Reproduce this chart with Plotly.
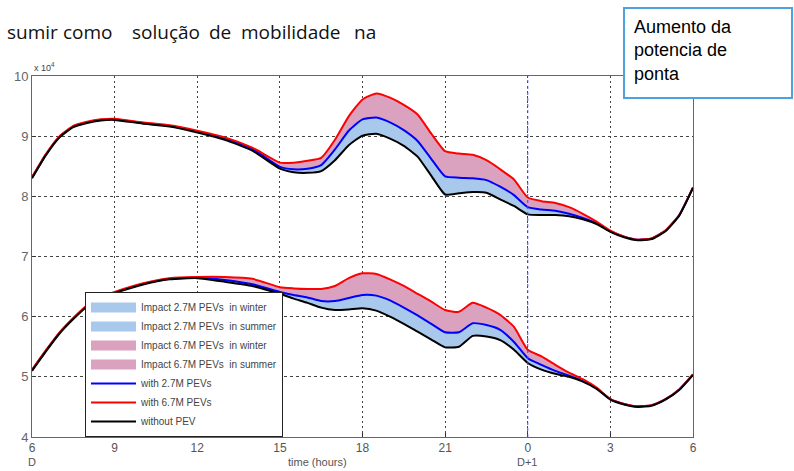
import plotly.graph_objects as go

hours = [6, 6.5, 7, 7.5, 8, 8.5, 9, 10, 11, 12, 13, 14, 15, 15.5, 16, 16.5, 17, 17.5, 18, 18.5,
         19, 19.5, 20, 20.5, 21, 21.5, 22, 22.5, 23, 23.5, 24, 24.5, 25, 25.5, 26, 26.5, 27, 27.5,
         28, 28.5, 29, 29.5, 30]

winter_without = [8.30, 8.68, 8.98, 9.15, 9.22, 9.26, 9.27, 9.21, 9.16, 9.06, 8.94, 8.76, 8.46, 8.40,
                  8.39, 8.42, 8.60, 8.85, 9.01, 9.04, 8.96, 8.84, 8.66, 8.34, 8.03, 8.05, 8.07, 8.06,
                  7.95, 7.84, 7.70, 7.69, 7.69, 7.67, 7.62, 7.54, 7.41, 7.32, 7.27, 7.29, 7.42, 7.68, 8.14]
winter_27 = [8.31, 8.69, 8.99, 9.16, 9.23, 9.27, 9.28, 9.22, 9.17, 9.08, 8.96, 8.79, 8.49, 8.45, 8.46,
             8.52, 8.78, 9.09, 9.28, 9.31, 9.23, 9.10, 8.92, 8.62, 8.33, 8.31, 8.30, 8.27, 8.16, 8.02,
             7.82, 7.78, 7.76, 7.71, 7.64, 7.55, 7.42, 7.33, 7.28, 7.30, 7.43, 7.69, 8.15]
winter_67 = [8.32, 8.70, 9.00, 9.17, 9.24, 9.28, 9.29, 9.23, 9.18, 9.09, 8.98, 8.81, 8.56, 8.56, 8.59,
             8.64, 8.94, 9.33, 9.61, 9.71, 9.64, 9.52, 9.36, 9.04, 8.75, 8.71, 8.69, 8.60, 8.45, 8.28,
             7.98, 7.92, 7.89, 7.82, 7.71, 7.58, 7.43, 7.33, 7.28, 7.30, 7.43, 7.69, 8.15]

summer_without = [5.10, 5.42, 5.72, 5.96, 6.17, 6.30, 6.39, 6.53, 6.62, 6.64, 6.58, 6.51, 6.38, 6.30,
                  6.23, 6.15, 6.11, 6.12, 6.14, 6.10, 6.00, 5.88, 5.75, 5.62, 5.49, 5.50, 5.68, 5.67,
                  5.61, 5.45, 5.23, 5.12, 5.05, 5.00, 4.92, 4.80, 4.62, 4.54, 4.50, 4.52, 4.62, 4.78, 5.03]
summer_27 = [5.11, 5.43, 5.73, 5.97, 6.18, 6.31, 6.40, 6.54, 6.63, 6.65, 6.61, 6.54, 6.41, 6.36, 6.32,
             6.26, 6.26, 6.31, 6.36, 6.35, 6.27, 6.15, 6.02, 5.88, 5.74, 5.74, 5.89, 5.86, 5.78, 5.58,
             5.31, 5.20, 5.10, 5.02, 4.93, 4.81, 4.63, 4.55, 4.51, 4.53, 4.63, 4.79, 5.04]
summer_67 = [5.12, 5.44, 5.74, 5.98, 6.19, 6.32, 6.41, 6.55, 6.64, 6.66, 6.66, 6.63, 6.49, 6.47, 6.46,
             6.46, 6.51, 6.64, 6.72, 6.71, 6.62, 6.51, 6.38, 6.25, 6.11, 6.08, 6.23, 6.15, 6.03, 5.83,
             5.45, 5.34, 5.20, 5.07, 4.96, 4.82, 4.63, 4.55, 4.51, 4.53, 4.63, 4.79, 5.04]

tick_vals = [6, 9, 12, 15, 18, 21, 24, 27, 30]
tick_text = ["6", "9", "12", "15", "18", "21", "0", "3", "6"]
y_ticks = [4, 5, 6, 7, 8, 9, 10]

header_words = ["sumir", "como", "solução", "de", "mobilidade", "na"]
header_x = [5, 61, 130, 207, 239, 352]

fill_blue = "#a9c9ec"
fill_pink = "#dba2bf"

# plot area in pixels
L, R, T, B = 32, 693, 76, 437
W, H = 794, 471


def px_x(px):
    return (px - L) / (R - L)


def px_y(py):
    return (B - py) / (B - T)


fig = go.Figure()


def add_band(lower, upper, color):
    fig.add_trace(go.Scatter(x=hours, y=lower, mode="lines",
                             line=dict(width=0, shape="spline", smoothing=0.5),
                             showlegend=False, hoverinfo="skip"))
    fig.add_trace(go.Scatter(x=hours, y=upper, mode="lines",
                             line=dict(width=0, shape="spline", smoothing=0.5),
                             fill="tonexty", fillcolor=color, showlegend=False))


add_band(winter_without, winter_27, fill_blue)
add_band(summer_without, summer_27, fill_blue)
add_band(winter_27, winter_67, fill_pink)
add_band(summer_27, summer_67, fill_pink)

# legend entries for the impact bands (thick swatches)
for name, color in [("Impact 2.7M PEVs  in winter", fill_blue),
                    ("Impact 2.7M PEVs  in summer", fill_blue),
                    ("Impact 6.7M PEVs  in winter", fill_pink),
                    ("Impact 6.7M PEVs  in summer", fill_pink)]:
    fig.add_trace(go.Scatter(x=[None], y=[None], mode="lines",
                             line=dict(color=color, width=11), name=name, showlegend=True))

lines = [
    (winter_27, summer_27, "#0000ff", "with 2.7M PEVs"),
    (winter_67, summer_67, "#ff0000", "with 6.7M PEVs"),
    (winter_without, summer_without, "#000000", "without PEV"),
]
for w, s, c, n in lines:
    fig.add_trace(go.Scatter(x=hours, y=w, mode="lines",
                             line=dict(color=c, width=2, shape="spline", smoothing=0.5),
                             name=n, legendgroup=n, showlegend=True))
    fig.add_trace(go.Scatter(x=hours, y=s, mode="lines",
                             line=dict(color=c, width=2, shape="spline", smoothing=0.5),
                             name=n, legendgroup=n, showlegend=False))

# vertical blue dotted line at midnight
fig.add_shape(type="line", xref="x", yref="paper", x0=24, x1=24, y0=0, y1=1,
              line=dict(color="#4040ff", width=1, dash="dot"))

fig.update_layout(
    width=W, height=H,
    margin=dict(l=L, r=W - R, t=T, b=H - B),
    paper_bgcolor="white", plot_bgcolor="white",
    font=dict(family="Liberation Sans, Arial", color="#333"),
    legend=dict(x=px_x(85), y=0, xanchor="left", yanchor="bottom",
                bgcolor="white", bordercolor="#222", borderwidth=1,
                font=dict(size=10, color="#444"), tracegroupgap=0, itemwidth=45),
    xaxis=dict(range=[6, 30], tickvals=tick_vals, ticktext=tick_text,
               showgrid=True, gridcolor="#444", griddash="2px,3px", gridwidth=1,
               showline=True, linecolor="#666", mirror=True, linewidth=1,
               ticks="inside", ticklen=4, tickcolor="#333",
               tickfont=dict(size=12, color="#555"), zeroline=False),
    yaxis=dict(range=[4, 10], tickvals=y_ticks,
               showgrid=True, gridcolor="#444", griddash="3px,3px", gridwidth=1,
               showline=True, linecolor="#666", mirror=True, linewidth=1,
               ticks="inside", ticklen=4, tickcolor="#333",
               tickfont=dict(size=13, color="#666"), zeroline=False),
    showlegend=True,
)

# exponent label
fig.add_annotation(x=0, y=1, xref="paper", yref="paper", xanchor="left", yanchor="bottom",
                   text="x 10<sup>4</sup>", showarrow=False, font=dict(size=9, color="#444"), yshift=1)

# x axis secondary labels
for xv, txt in [(6, "D"), (24, "D+1")]:
    fig.add_annotation(x=xv, y=0, xref="x", yref="paper", yanchor="top", xanchor="center",
                       text=txt, showarrow=False, font=dict(size=11, color="#555"), yshift=-17)
fig.add_annotation(x=px_x(317), y=0, xref="paper", yref="paper", yanchor="top",
                   text="time (hours)", showarrow=False, font=dict(size=11, color="#555"), yshift=-17)

# top text (justified line from the page)
for wd, xp in zip(header_words, header_x):
    fig.add_annotation(x=px_x(xp), y=px_y(32), xref="paper", yref="paper",
                       xanchor="left", yanchor="middle", text=wd, showarrow=False,
                       font=dict(family="Open Sans, Liberation Sans", size=19, color="#111"))

# callout box
fig.add_shape(type="rect", xref="paper", yref="paper",
              x0=px_x(624), x1=px_x(792), y0=px_y(98), y1=px_y(8),
              line=dict(color="#4ea1dc", width=2), fillcolor="white", layer="above")
fig.add_annotation(x=px_x(632), y=px_y(15), xref="paper", yref="paper",
                   xanchor="left", yanchor="top", align="left",
                   text="Aumento da<br>potencia de<br>ponta", showarrow=False,
                   font=dict(family="Liberation Sans, Arial", size=18, color="#000"))

fig.write_html("out.html", config={"displayModeBar": False},
               post_script="document.body.style.margin='0px';")
